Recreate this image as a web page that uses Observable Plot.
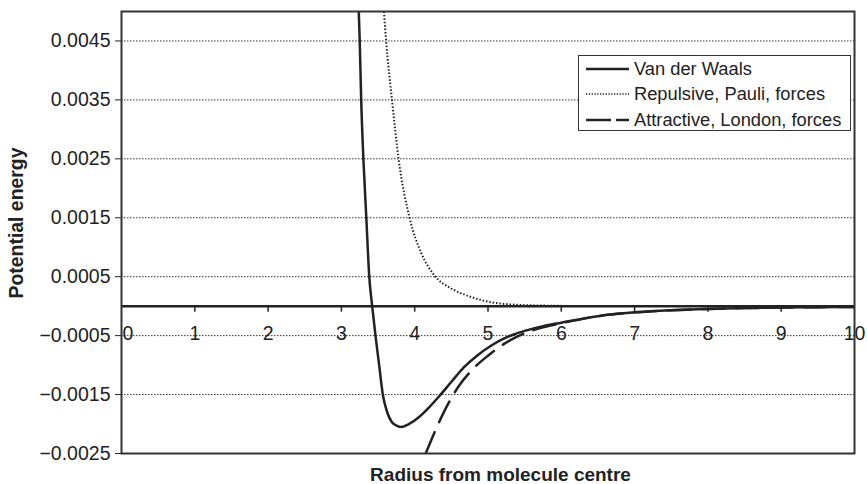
<!DOCTYPE html>
<html><head><meta charset="utf-8">
<script src="https://cdn.jsdelivr.net/npm/d3@7"></script>
<script src="https://cdn.jsdelivr.net/npm/@observablehq/plot@0.6"></script>
<style>
body{margin:0;background:#fff;}
#wrap{position:relative;width:867px;height:484px;font-family:"Liberation Sans",Arial,sans-serif;color:#222;}
#legend{position:absolute;left:578px;top:55px;width:271px;height:74px;border:1.5px solid #333;background:#fff;}
.row{position:absolute;left:0;height:20px;width:270px;}
.row svg{position:absolute;left:6px;top:0;}
.row span{position:absolute;left:55px;top:0;line-height:20px;font-size:18.3px;white-space:nowrap;}
</style></head>
<body><div id="wrap"><div id="legend"></div></div>
<script>
// Series
const vdwR = [3.237,3.25,3.27,3.30,3.34,3.38,3.42,3.465,3.515,3.565,3.625,3.69,3.76,3.81,3.92,4.06,4.19,4.34,4.51,4.67,4.85,5.03,5.2,5.35,5.5,5.75,6.0,6.5,7.0,7.5,8.0,8.5,9.0,9.5,10];
const vdwV = [0.005,0.0045,0.0035,0.0025,0.0015,0.0005,0,-0.0005,-0.001,-0.0015,-0.0018,-0.00197,-0.00203,-0.00205,-0.002,-0.00188,-0.001725,-0.00152,-0.00127,-0.00104,-0.00084,-0.00068,-0.00056,-0.00048,-0.00042,-0.00034,-0.00028,-0.00017,-0.000105,-0.000068,-0.000046,-0.000033,-0.000024,-0.000017,-0.000013];
const repR = [3.58,3.61,3.69,3.78,3.93,4.09,4.27,4.5,4.76,5.03,5.3,5.75,6.0];
const repV = [0.005,0.0045,0.0035,0.0025,0.0015,0.0009,0.00052,0.0003,0.00016,0.00007,0.00003,0.00001,0.000005];
const attR = [4.15,4.31,4.45,4.6,4.8,5.0,5.17,5.3,5.5,5.75,6.0,6.5,7.0,7.5,8.0,8.5,9.0,9.5,10];
const attV = [-0.0025,-0.00203,-0.00167,-0.00136,-0.00106,-0.00084,-0.00068,-0.00058,-0.00046,-0.00036,-0.00029,-0.00017,-0.000105,-0.000068,-0.000046,-0.000033,-0.000024,-0.000017,-0.000013];

const seriesNames = ["Van der Waals","Repulsive, Pauli, forces","Attractive, London, forces"];
const yTicks = [0.0045,0.0035,0.0025,0.0015,0.0005,-0.0005,-0.0015,-0.0025];
const yTickLabels = ["0.0045","0.0035","0.0025","0.0015","0.0005","\u22120.0005","\u22120.0015","\u22120.0025"];
const xTicks = [0,1,2,3,4,5,6,7,8,9,10];
const xTickLabels = ["0","1","2","3","4","5","6","7","8","9","10"];
const xTitle = "Radius from molecule centre";
const yTitle = "Potential energy";

const toRows = (R, V) => R.map((r, i) => ({r, v: V[i]}));
const vdw = toRows(vdwR, vdwV), rep = toRows(repR, repV), att = toRows(attR, attV);
const ink = "#222";
const styles = [
  {stroke: ink, strokeWidth: 2.5},
  {stroke: ink, strokeWidth: 2, strokeDasharray: "1.5 1.9", strokeLinecap: "butt"},
  {stroke: ink, strokeWidth: 2.5, strokeDasharray: "23 11"}
];
const yFmt = d => yTickLabels[yTicks.indexOf(d)];

const chart = Plot.plot({
  width: 867, height: 484,
  marginLeft: 121, marginRight: 13, marginTop: 11, marginBottom: 31,
  style: {fontFamily: '"Liberation Sans", Arial, sans-serif', color: ink, background: "#fff"},
  x: {domain: [0, 10], axis: null},
  y: {domain: [-0.0025, 0.005], axis: null},
  marks: [
    Plot.ruleY(yTicks.filter(d => d > -0.0025), {stroke: "#333", strokeWidth: 1, strokeDasharray: "1.5 1.5"}),
    Plot.axisY(yTicks, {tickFormat: yFmt, tickSize: 6, tickPadding: 5, fontSize: 19.5, label: null, stroke: ink, fill: ink}),
    Plot.ruleX(xTicks.slice(1, -1), {y1: () => 0, y2: () => 0, insetBottom: -6, stroke: ink, strokeWidth: 1.5}),
    Plot.text(xTicks.slice(1), {x: d => d, y: () => 0, text: (d) => xTickLabels[xTicks.indexOf(d)], dy: 28, lineAnchor: "middle", fontSize: 19.5, fill: ink}),
    Plot.text([xTicks[0]], {x: d => d, y: () => 0, text: () => xTickLabels[0], dy: 28, dx: 1, textAnchor: "start", lineAnchor: "middle", fontSize: 19.5, fill: ink}),
    Plot.line(rep, {x: "r", y: "v", curve: "monotone-x", clip: true, ...styles[1]}),
    Plot.line(att, {x: "r", y: "v", curve: "monotone-x", clip: true, ...styles[2]}),
    Plot.line(vdw, {x: "r", y: "v", curve: "monotone-x", clip: true, ...styles[0]}),
    Plot.ruleY([0], {stroke: ink, strokeWidth: 2.5}),
    Plot.frame({stroke: "#333", strokeWidth: 2}),
    Plot.text([yTitle], {frameAnchor: "left", rotate: -90, dx: -104.5, dy: -9.5, fontSize: 19.4, fontWeight: "bold", fill: ink, textAnchor: "middle", lineAnchor: "middle"}),
    Plot.text([xTitle], {frameAnchor: "bottom", dx: 12.5, dy: 27.5, fontSize: 19, fontWeight: "bold", fill: ink, lineAnchor: "bottom"})
  ]
});
const wrap = document.getElementById("wrap");
wrap.insertBefore(chart, wrap.firstChild);

// Legend
const legend = document.getElementById("legend");
const rowCenters = [12.5, 37.5, 63.5];
const samples = [
  {segs: [[1, 44]], dash: null, w: 2.5},
  {segs: [[1, 44]], dash: "1.3 1.5", w: 1.6},
  {segs: [[1, 26], [31, 44]], dash: null, w: 2.5}
];
seriesNames.forEach((name, i) => {
  const row = document.createElement("div");
  row.className = "row";
  row.style.top = (rowCenters[i] - 10) + "px";
  const s = samples[i];
  const lines = s.segs.map(([a, b]) => `<line x1="${a}" x2="${b}" y1="10" y2="10" stroke="${ink}" stroke-width="${s.w}"${s.dash ? ` stroke-dasharray="${s.dash}"` : ""}/>`).join("");
  row.innerHTML = `<svg width="48" height="20">${lines}</svg><span>${name}</span>`;
  legend.appendChild(row);
});
</script>
</body></html>
